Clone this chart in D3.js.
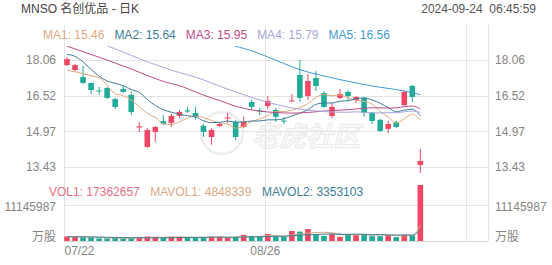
<!DOCTYPE html>
<html>
<head>
<meta charset="utf-8">
<script src="https://cdn.jsdelivr.net/npm/d3@7"></script>
<style>
  body { margin: 0; background: #fff; }
  svg text { font-family: "Liberation Sans", Arial, "Noto Sans CJK SC", sans-serif; }
</style>
</head>
<body>
<svg id="chart" width="552" height="265"></svg>
<script>
// daily candles, 07/22 .. 09/23
const open  = [17.84,17.63,17.32,17.07,16.74,16.85,16.37,16.81,16.55,15.14,14.30,14.95,15.42,15.34,15.64,15.88,15.77,15.21,14.73,15.21,15.53,15.38,15.16,16.24,15.88,16.07,15.90,15.44,16.27,17.41,16.50,17.28,16.63,15.64,16.42,16.68,16.33,16.42,15.77,15.47,15.08,15.38,16.11,16.94,13.52];
const high  = [18.19,17.89,17.80,17.07,16.89,16.89,16.42,16.98,16.68,15.38,15.12,15.21,15.68,15.73,15.90,16.03,16.03,15.29,15.12,15.34,15.77,15.47,15.60,16.33,15.99,16.50,15.99,15.60,16.59,18.06,17.45,17.58,16.72,16.20,16.81,16.76,16.50,16.46,15.81,15.51,15.42,15.42,16.72,16.98,14.21];
const low   = [17.80,17.58,17.02,16.59,16.55,16.37,15.94,16.63,15.68,14.95,14.26,14.52,15.25,15.16,15.55,15.77,15.47,14.73,14.39,15.16,15.34,14.60,15.12,15.90,15.68,15.94,15.38,15.29,16.27,16.24,16.33,16.72,15.99,15.55,16.37,16.33,16.20,15.60,15.29,14.95,14.90,15.12,16.07,16.24,13.17];
const close = [18.10,17.84,17.07,16.76,16.70,16.42,16.03,16.68,15.81,15.19,15.03,15.16,15.29,15.64,15.81,15.83,15.60,14.95,15.03,15.29,15.57,14.73,15.38,16.03,15.83,16.29,15.60,15.40,16.31,16.42,17.15,16.94,16.03,16.03,16.59,16.50,16.46,15.77,15.42,14.99,15.29,15.16,16.68,16.46,13.69];
const volume = [1400000,1300000,1100000,1100000,800000,800000,900000,800000,1000000,1200000,1400000,1300000,1000000,1300000,1300000,1000000,1000000,1100000,1400000,1300000,1000000,1200000,1900000,1600000,1400000,2200000,1300000,1300000,3100000,2900000,3700000,2200000,1600000,2200000,1300000,2200000,1900000,2200000,1500000,1490000,1900000,1200000,2000000,1780000,17362657];

// moving average lines
const ma1 = [17.62,17.55,17.47,17.38,17.29,16.96,16.60,16.52,16.33,16.03,15.75,15.57,15.30,15.26,15.39,15.55,15.63,15.57,15.44,15.34,15.29,15.11,15.20,15.40,15.51,15.65,15.83,15.83,15.89,16.00,16.18,16.44,16.57,16.51,16.55,16.42,16.32,16.27,16.15,15.83,15.59,15.33,15.51,15.72,15.46];
const ma2 = [18.30,18.22,17.98,17.65,17.36,17.15,17.05,16.95,16.78,16.66,16.35,16.09,15.91,15.80,15.71,15.65,15.60,15.43,15.35,15.36,15.42,15.37,15.38,15.42,15.42,15.47,15.47,15.52,15.64,15.76,15.91,16.14,16.20,16.20,16.28,16.30,16.38,16.42,16.33,16.19,16.00,15.82,15.89,15.93,15.64];
const ma3 = [18.66,18.54,18.42,18.30,18.18,18.06,17.93,17.80,17.67,17.53,17.39,17.26,17.13,17.04,16.95,16.82,16.68,16.54,16.42,16.31,16.18,16.06,15.97,15.90,15.85,15.81,15.79,15.77,15.76,15.77,15.79,15.82,15.85,15.87,15.89,15.91,15.94,15.97,15.99,15.99,15.98,15.99,16.04,16.07,15.95];
const ma4 = [19.38,19.24,19.10,18.96,18.82,18.68,18.54,18.40,18.26,18.12,17.98,17.86,17.74,17.62,17.52,17.42,17.32,17.20,17.06,16.93,16.80,16.68,16.56,16.44,16.33,16.23,16.14,16.06,15.99,15.93,15.89,15.86,15.83,15.81,15.80,15.80,15.82,15.79,15.78,15.77,15.78,15.78,15.82,15.85,15.79];
const ma5 = [21.40,21.28,21.16,21.04,20.92,20.80,20.68,20.56,20.44,20.32,20.20,20.08,19.96,19.84,19.70,19.55,19.40,19.25,19.10,18.95,18.80,18.66,18.56,18.46,18.33,18.19,18.05,17.91,17.77,17.64,17.54,17.45,17.37,17.29,17.21,17.14,17.07,17.00,16.94,16.88,16.83,16.78,16.72,16.65,16.56];
const mavol1 = [1300000,1300000,1250000,1200000,1140000,1000000,940000,880000,860000,940000,1060000,1140000,1180000,1240000,1260000,1180000,1120000,1140000,1160000,1160000,1160000,1200000,1360000,1400000,1420000,1660000,1680000,1560000,1860000,2160000,2460000,2640000,2700000,2520000,2200000,1900000,1840000,1960000,1820000,1860000,1800000,1660000,1620000,1670000,4848339];
const mavol2 = [1300000,1300000,1300000,1250000,1200000,1150000,1100000,1050000,1000000,1050000,1000000,980000,980000,1020000,1060000,1100000,1120000,1130000,1200000,1210000,1160000,1160000,1250000,1280000,1290000,1410000,1440000,1460000,1610000,1790000,1940000,2000000,2130000,2190000,2030000,2040000,2140000,2080000,1930000,1990000,1880000,1840000,1820000,1850000,3353103];

const priceTicks = [18.06, 16.52, 14.97, 13.43];
const volTicks = [0, 11145987];
const dateTicks = [0, 25, 50];
const dateLabels = ["07/22", "08/26", ""];

const maNames = ["MA1", "MA2", "MA3", "MA4", "MA5"];
const maColors = ["#dfa97f", "#3d7e96", "#bd4b86", "#a7a7dd", "#3f9bd0"];
const volNames = ["VOL1", "MAVOL1", "MAVOL2"];
const volColors = ["#ec6f7e", "#d9aa84", "#3d7e96"];

const upColor = "#ef4764";
const downColor = "#1fab98";
const gridColor = "#e4e4e4";

const plotL = 64, plotR = 488, plotT = 25, plotB = 241;
const lineTop = 46; // series are cut off just under the MA legend

const svg = d3.select("#chart");

const x = d3.scaleLinear().domain([0, 52.8]).range([plotL, plotR]);
const cx = i => x(i) + 3;
const y = d3.scaleLinear().domain([13.43, 18.06]).range([167, 60]);
const yv = d3.scaleLinear().domain([0, 11145987]).range([plotB, 205]);

svg.append("defs").append("clipPath").attr("id", "priceClip")
  .append("rect").attr("x", plotL).attr("y", lineTop).attr("width", plotR - plotL).attr("height", 185 - lineTop);

// watermark
const wm = svg.append("g");
wm.append("circle").attr("cx", 222).attr("cy", 133).attr("r", 21)
  .attr("fill", "none").attr("stroke", "#ededed").attr("stroke-width", 2.5);
wm.append("text").attr("x", 252).attr("y", 146)
  .attr("font-size", 27).attr("font-style", "italic").attr("font-weight", "bold")
  .style("font-family", "'Noto Sans CJK SC', sans-serif")
  .attr("fill", "#fbfbfb").attr("stroke", "#eaeaea").attr("stroke-width", 1)
  .text("老虎社区");

// grid
const grid = svg.append("g").attr("shape-rendering", "crispEdges");
grid.selectAll(".hp").data(priceTicks).enter().append("line")
  .attr("x1", plotL).attr("x2", plotR)
  .attr("y1", d => Math.round(y(d)) + 0.5).attr("y2", d => Math.round(y(d)) + 0.5)
  .attr("stroke", gridColor);
grid.selectAll(".hv").data(volTicks).enter().append("line")
  .attr("x1", plotL).attr("x2", plotR)
  .attr("y1", d => Math.round(yv(d)) + 0.5).attr("y2", d => Math.round(yv(d)) + 0.5)
  .attr("stroke", d => d === 0 ? "#d8d8d8" : gridColor);
grid.selectAll(".vx").data(dateTicks.map(x).concat([plotR])).enter().append("line")
  .attr("x1", d => Math.round(d) + 0.5).attr("x2", d => Math.round(d) + 0.5)
  .attr("y1", plotT).attr("y2", plotB)
  .attr("stroke", gridColor);

// axes
const axisL = svg.append("g").attr("transform", `translate(${plotL},0)`)
  .call(d3.axisLeft(y).tickValues(priceTicks).tickSize(0).tickPadding(8).tickFormat(d3.format(".2f")));
const axisR = svg.append("g").attr("transform", `translate(${plotR},0)`)
  .call(d3.axisRight(y).tickValues(priceTicks).tickSize(0).tickPadding(7).tickFormat(d3.format(".2f")));
const volFmt = d => d === 0 ? "万股" : String(d);
const vAxisL = svg.append("g").attr("transform", `translate(${plotL},0)`)
  .call(d3.axisLeft(yv).tickValues(volTicks).tickSize(0).tickPadding(8).tickFormat(volFmt));
const vAxisR = svg.append("g").attr("transform", `translate(${plotR},0)`)
  .call(d3.axisRight(yv).tickValues(volTicks).tickSize(0).tickPadding(7).tickFormat(volFmt));
const xAxis = svg.append("g").attr("transform", `translate(0,${plotB})`)
  .call(d3.axisBottom(x).tickValues(dateTicks.slice(0, 2)).tickSize(0).tickPadding(5)
    .tickFormat((d, i) => dateLabels[i]));

[axisL, axisR, vAxisL, vAxisR, xAxis].forEach(g => {
  g.select(".domain").remove();
  g.selectAll("text").attr("font-size", 12).attr("fill", "#858585")
    .style("font-family", "'Liberation Sans', Arial, 'Noto Sans CJK SC', sans-serif");
});
[vAxisL, vAxisR].forEach(g => {
  g.selectAll(".tick").filter(d => d === 0).select("text").attr("dy", "-0.05em");
  g.selectAll(".tick").filter(d => d !== 0).select("text").attr("dy", "0.45em");
});
xAxis.selectAll(".tick").filter(d => d === 0).select("text")
  .attr("text-anchor", "start").attr("x", 0);

// candles
const idx = d3.range(close.length);
const isUp = i => close[i] >= open[i];
const price = svg.append("g").attr("clip-path", "url(#priceClip)");

price.selectAll(".wick").data(idx).enter().append("line")
  .attr("x1", i => cx(i)).attr("x2", i => cx(i))
  .attr("y1", i => y(high[i])).attr("y2", i => y(low[i]))
  .attr("stroke", i => isUp(i) ? upColor : downColor).attr("stroke-width", 1);

price.selectAll(".body").data(idx).enter().append("rect")
  .attr("x", i => cx(i) - 2.8).attr("width", 5.6)
  .attr("y", i => y(Math.max(open[i], close[i])))
  .attr("height", i => Math.max(1, y(Math.min(open[i], close[i])) - y(Math.max(open[i], close[i]))))
  .attr("fill", i => isUp(i) ? upColor : downColor);

// moving averages
const maLine = d3.line().x((d, i) => cx(i)).y(d => y(d)).curve(d3.curveMonotoneX);
[ma1, ma2, ma3, ma4, ma5].forEach((s, k) => {
  price.append("path").datum(s).attr("d", maLine)
    .attr("fill", "none").attr("stroke", maColors[k]).attr("stroke-width", 1);
});

// volume
svg.append("g").selectAll("rect").data(idx).enter().append("rect")
  .attr("x", i => cx(i) - 2.8).attr("width", 5.6)
  .attr("y", i => yv(volume[i]))
  .attr("height", i => yv(0) - yv(volume[i]))
  .attr("fill", i => isUp(i) ? upColor : downColor);

const volLine = d3.line().x((d, i) => cx(i)).y(d => yv(d)).curve(d3.curveMonotoneX);
[mavol1, mavol2].forEach((s, k) => {
  svg.append("path").datum(s).attr("d", volLine)
    .attr("fill", "none").attr("stroke", volColors[k + 1]).attr("stroke-width", 1);
});

// legends
function legend(items, x0, yb, gap) {
  let xp = x0;
  items.forEach(it => {
    const t = svg.append("text").attr("x", xp).attr("y", yb)
      .attr("font-size", 12).attr("fill", it.color).text(it.text);
    xp += t.node().getComputedTextLength() + gap;
  });
}
const last = close.length - 1;
const maVals = [ma1, ma2, ma3, ma4, ma5].map(s => s[last]);
legend(maNames.map((n, k) => ({ text: `${n}: ${maVals[k].toFixed(2)}`, color: maColors[k] })), 43, 38.5, 10);
const volVals = [volume[last], mavol1[last], mavol2[last]];
legend(volNames.map((n, k) => ({ text: `${n}: ${volVals[k]}`, color: volColors[k] })), 49, 196, 10.5);

// header
svg.append("text").attr("x", 21).attr("y", 13).attr("font-size", 12).attr("fill", "#444")
  .text("MNSO 名创优品 - 日K");
svg.append("text").attr("x", 536).attr("y", 13).attr("font-size", 12).attr("fill", "#555")
  .attr("text-anchor", "end").attr("xml:space", "preserve").text("2024-09-24  06:45:59");
</script>
</body>
</html>
